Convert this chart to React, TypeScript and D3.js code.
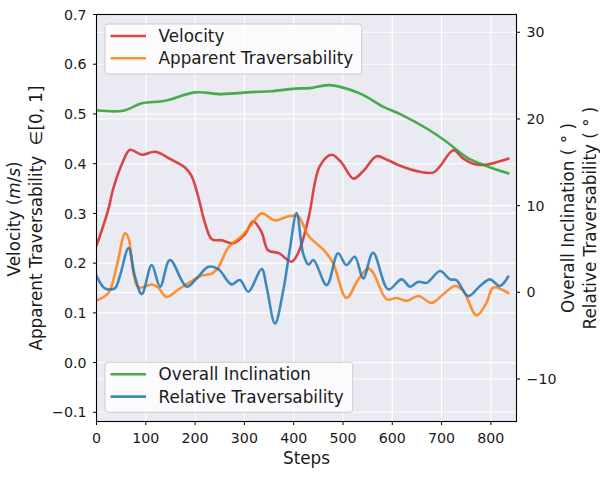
import React from "react";
import * as d3 from "d3";

// ---- data ----
const greenSteps = [0, 54, 92, 139, 200, 254, 315, 355, 403, 433, 473, 534, 582, 616, 670, 710, 751, 791, 835];
const greenVals = [21.0, 20.95, 21.8, 22.1, 23.07, 22.87, 23.1, 23.2, 23.5, 23.56, 23.9, 22.95, 21.4, 20.56, 18.9, 17.37, 15.57, 14.57, 13.73];

const redSteps = [0, 7, 24, 34, 54, 68, 92, 119, 152, 180, 193, 206, 220, 234, 254, 277, 301, 318, 335, 348, 370, 396, 411, 430, 453, 477, 497, 521, 541, 568, 589, 616, 650, 683, 697, 724, 744, 764, 791, 818, 835];
const redVals = [0.236, 0.255, 0.308, 0.35, 0.405, 0.428, 0.418, 0.424, 0.408, 0.392, 0.375, 0.335, 0.281, 0.248, 0.246, 0.24, 0.258, 0.284, 0.262, 0.226, 0.22, 0.203, 0.225, 0.29, 0.395, 0.418, 0.402, 0.37, 0.385, 0.415, 0.408, 0.396, 0.385, 0.382, 0.395, 0.427, 0.41, 0.40, 0.398, 0.405, 0.41];

const orangeSteps = [0, 24, 41, 58, 65, 75, 85, 112, 125, 142, 166, 193, 213, 234, 247, 267, 294, 315, 335, 362, 389, 409, 430, 463, 480, 507, 531, 551, 561, 589, 609, 629, 653, 680, 703, 727, 744, 771, 791, 805, 835];
const orangeVals = [0.125, 0.14, 0.194, 0.26, 0.25, 0.181, 0.151, 0.157, 0.151, 0.132, 0.147, 0.164, 0.175, 0.179, 0.191, 0.231, 0.254, 0.278, 0.3, 0.286, 0.294, 0.294, 0.255, 0.224, 0.2, 0.13, 0.167, 0.189, 0.181, 0.127, 0.13, 0.124, 0.134, 0.12, 0.137, 0.154, 0.144, 0.095, 0.12, 0.151, 0.14];

const blueSteps = [0, 17, 37, 47, 65, 78, 92, 112, 129, 149, 183, 203, 227, 247, 274, 291, 308, 335, 345, 362, 379, 392, 406, 419, 430, 440, 467, 490, 507, 524, 541, 561, 592, 619, 636, 653, 670, 697, 717, 730, 754, 778, 798, 818, 835];
const blueVals = [1.9, 0.46, 0.46, 1.8, 5.1, 1.8, -0.2, 3.15, 0.65, 3.73, 0.65, 1.6, 2.95, 2.69, 0.92, 1.42, 0.07, 2.69, 0.65, -3.6, 0.27, 4.88, 9.15, 4.5, 3.2, 3.73, 0.84, 4.5, 3.15, 4.1, 1.6, 4.57, 0.35, 1.5, 0.65, 1.22, 1.1, 2.46, 1.5, 1.42, -0.43, 0.73, 1.5, 0.73, 1.8];

const xTicks = [0, 100, 200, 300, 400, 500, 600, 700, 800];
const leftTicks = [-0.1, 0.0, 0.1, 0.2, 0.3, 0.4, 0.5, 0.6, 0.7];
const rightTicks = [-10, 0, 10, 20, 30];

const legendTop = ["Velocity", "Apparent Traversability"];
const legendBottom = ["Overall Inclination", "Relative Traversability"];

const C_RED = "#d62728";
const C_ORANGE = "#ff7f0e";
const C_GREEN = "#2ca02c";
const C_BLUE = "#1f77b4";

const W = 600;
const H = 480;
const L = 96.5, R = 516.5, T = 14.5, B = 421.5;
const FONT = "DejaVu Sans, sans-serif";
const TICK_FS = 14.2;
const LAB_FS = 16.8;

export default function App() {
  const x = d3.scaleLinear().domain([0, 852]).range([L, R]);
  const yL = d3.scaleLinear().domain([-0.1185, 0.7]).range([B, T]);
  const yR = d3.scaleLinear().domain([-14.9, 32.05]).range([B, T]);

  const mk = (steps: number[], vals: number[], y: d3.ScaleLinear<number, number>) =>
    d3
      .line<number>()
      .x((_, i) => x(steps[i]))
      .y((v) => y(v))
      .curve(d3.curveCatmullRom.alpha(0.5))(vals) || "";

  const lines = [
    { d: mk(redSteps, redVals, yL), c: C_RED },
    { d: mk(orangeSteps, orangeVals, yL), c: C_ORANGE },
    { d: mk(greenSteps, greenVals, yR), c: C_GREEN },
    { d: mk(blueSteps, blueVals, yR), c: C_BLUE },
  ];

  const legend = (x0: number, y0: number, w: number, labels: string[], colors: string[]) => (
    <g>
      <rect x={x0} y={y0} width={w} height={50} rx={3} fill="#ffffff" fillOpacity={0.8} stroke="#cccccc" strokeWidth={1} />
      {labels.map((lab, i) => (
        <g key={lab}>
          <line x1={x0 + 5.5} x2={x0 + 41} y1={y0 + 12 + i * 22.3} y2={y0 + 12 + i * 22.3} stroke={colors[i]} strokeOpacity={0.85} strokeWidth={2.6} />
          <text x={x0 + 53.5} y={y0 + 12 + i * 22.3} dy="0.36em" fontSize={LAB_FS} fontFamily={FONT} fill="#1a1a1a">
            {lab}
          </text>
        </g>
      ))}
    </g>
  );

  return (
    <svg width={W} height={H} style={{ display: "block", position: "absolute", left: 0, top: 0 }}>
      <rect x={0} y={0} width={W} height={H} fill="#ffffff" />
      <rect x={L} y={T} width={R - L} height={B - T} fill="#eaeaf2" />
      {/* grid */}
      {xTicks.map((t) => (
        <line key={"gx" + t} x1={x(t)} x2={x(t)} y1={T} y2={B} stroke="#ffffff" strokeWidth={1.1} />
      ))}
      {leftTicks.map((t) => (
        <line key={"gl" + t} x1={L} x2={R} y1={yL(t)} y2={yL(t)} stroke="#ffffff" strokeWidth={1.1} />
      ))}
      {rightTicks.map((t) => (
        <line key={"gr" + t} x1={L} x2={R} y1={yR(t)} y2={yR(t)} stroke="#ffffff" strokeWidth={1.1} />
      ))}
      {/* lines */}
      <g clipPath="url(#clip)">
        {lines.map((l, i) => (
          <path key={i} d={l.d} fill="none" stroke={l.c} strokeOpacity={0.85} strokeWidth={2.6} strokeLinejoin="round" strokeLinecap="square" />
        ))}
      </g>
      <defs>
        <clipPath id="clip">
          <rect x={L} y={T} width={R - L} height={B - T} />
        </clipPath>
      </defs>
      {/* spines */}
      <rect x={L} y={T} width={R - L} height={B - T} fill="none" stroke="#000" strokeWidth={1.1} />
      {/* x ticks */}
      {xTicks.map((t) => (
        <g key={"xt" + t}>
          <line x1={x(t)} x2={x(t)} y1={B} y2={B + 3.5} stroke="#000" strokeWidth={1} />
          <text x={x(t)} y={B + 16.5} dy="0.36em" textAnchor="middle" fontSize={TICK_FS} fontFamily={FONT} fill="#1a1a1a">
            {t}
          </text>
        </g>
      ))}
      {leftTicks.map((t) => (
        <g key={"lt" + t}>
          <line x1={L - 3.5} x2={L} y1={yL(t)} y2={yL(t)} stroke="#000" strokeWidth={1} />
          <text x={L - 10} y={yL(t)} dy="0.36em" textAnchor="end" fontSize={TICK_FS} fontFamily={FONT} fill="#1a1a1a">
            {t < 0 ? "\u2212" + Math.abs(t).toFixed(1) : t.toFixed(1)}
          </text>
        </g>
      ))}
      {rightTicks.map((t) => (
        <g key={"rt" + t}>
          <line x1={R} x2={R + 3.5} y1={yR(t)} y2={yR(t)} stroke="#000" strokeWidth={1} />
          <text x={R + 10} y={yR(t)} dy="0.36em" textAnchor="start" fontSize={TICK_FS} fontFamily={FONT} fill="#1a1a1a">
            {t < 0 ? "\u2212" + Math.abs(t) : String(t)}
          </text>
        </g>
      ))}
      {/* axis labels */}
      <text x={(L + R) / 2} y={458} dy="0.36em" textAnchor="middle" fontSize={LAB_FS} fontFamily={FONT} fill="#1a1a1a">
        Steps
      </text>
      <g transform={`translate(14,219) rotate(-90)`}>
        <text x={0} y={0} dy="0.36em" textAnchor="middle" fontSize={LAB_FS} fontFamily={FONT} fill="#1a1a1a">
          Velocity (<tspan fontStyle="italic">m</tspan>/<tspan fontStyle="italic">s</tspan>)
        </text>
      </g>
      <g transform={`translate(36,218) rotate(-90)`}>
        <text x={0} y={0} dy="0.36em" textAnchor="middle" fontSize={LAB_FS} fontFamily={FONT} fill="#1a1a1a" style={{ whiteSpace: "pre" }}>
          {"Apparent Traversability  \u2208[0, 1]"}
        </text>
      </g>
      <g transform={`translate(568,218) rotate(-90)`}>
        <text x={0} y={0} dy="0.36em" textAnchor="middle" fontSize={LAB_FS} fontFamily={FONT} fill="#1a1a1a">
          Overall Inclination ( ° )
        </text>
      </g>
      <g transform={`translate(589.5,218) rotate(-90)`}>
        <text x={0} y={0} dy="0.36em" textAnchor="middle" fontSize={LAB_FS} fontFamily={FONT} fill="#1a1a1a">
          Relative Traversability ( ° )
        </text>
      </g>
      {legend(105, 24, 256.7, legendTop, [C_RED, C_ORANGE])}
      {legend(105, 362.3, 247.7, legendBottom, [C_GREEN, C_BLUE])}
    </svg>
  );
}
